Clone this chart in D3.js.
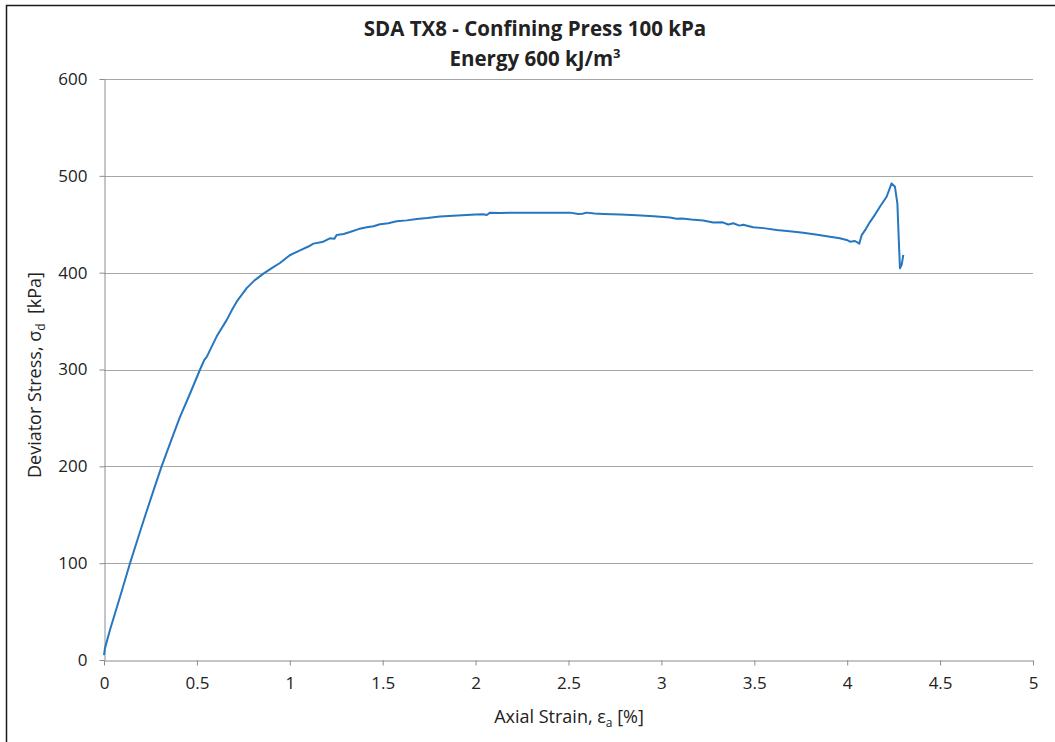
<!DOCTYPE html>
<html>
<head>
<meta charset="utf-8">
<script src="https://cdn.jsdelivr.net/npm/d3@7"></script>
<style>
  html, body { margin: 0; padding: 0; background: #fff; }
  svg { display: block; }
  text { font-family: "Open Sans", "Liberation Sans", sans-serif; fill: #222; }
</style>
</head>
<body>
<svg id="chart" width="1055" height="742"></svg>
<script>
// Triaxial test record: axial strain [%] vs deviator stress [kPa]
const strain = [0, 0.005, 0.032, 0.086, 0.140, 0.183, 0.225, 0.268, 0.310, 0.360, 0.409, 0.465, 0.517, 0.540, 0.553, 0.606, 0.660, 0.690, 0.714, 0.768, 0.810, 0.858, 0.905, 0.947, 1.000, 1.055,
  1.100, 1.127, 1.180, 1.216, 1.240, 1.252, 1.290, 1.324, 1.370, 1.414, 1.450, 1.486, 1.530, 1.575, 1.630, 1.683, 1.740, 1.808, 1.880, 1.952, 2.000, 2.041, 2.060, 2.078, 2.130, 2.185, 2.260, 2.347, 2.430, 2.508, 2.553, 2.575, 2.598,
  2.640, 2.688, 2.780, 2.867, 2.960, 3.046, 3.082, 3.110, 3.160, 3.225, 3.279, 3.330, 3.360, 3.387, 3.420, 3.440, 3.494, 3.550, 3.620, 3.690, 3.763, 3.830, 3.908, 3.960, 3.997, 4.015, 4.042, 4.065, 4.078,
  4.100, 4.123, 4.150, 4.176, 4.212, 4.239, 4.257, 4.270, 4.277, 4.284, 4.293, 4.302];
const stress = [5, 12, 31, 65, 100, 126, 151, 176, 200, 226, 251, 276, 300, 310, 313, 334, 351, 362, 370, 384, 392, 399, 405, 410, 418, 423,
  427, 430, 432, 435.5, 435, 439, 440, 442, 445, 447, 448, 450, 451, 453, 454, 455.5, 456.5, 458, 458.8, 459.5, 460, 460.3, 459.5, 462, 461.5, 462, 462, 462, 462, 462, 460.6, 460.8, 462,
  461, 460.6, 460, 459.3, 458.3, 457, 455.6, 456, 454.8, 453.8, 451.8, 452, 449.8, 451, 448.6, 449.5, 447, 446, 444, 442.8, 441.3, 439.5, 437, 435.5, 433.8, 432, 432.7, 430, 438.8,
  445, 452.5, 460, 468, 478.4, 492.2, 488.7, 471.6, 437, 404.5, 408, 418.3];

const xTicks = [0, 0.5, 1, 1.5, 2, 2.5, 3, 3.5, 4, 4.5, 5];
const yTicks = [0, 100, 200, 300, 400, 500, 600];

const svg = d3.select("#chart");

// Outer chart frame
svg.append("rect")
  .attr("x", 6.5).attr("y", 5.5)
  .attr("width", 1060).attr("height", 760)
  .attr("fill", "#fff").attr("stroke", "#1a1a1a").attr("stroke-width", 1.5);

const plotLeft = 104, plotRight = 1033, plotTop = 79, plotBottom = 660;
const x = d3.scaleLinear().domain([0, 5]).range([plotLeft, plotRight]);
const y = d3.scaleLinear().domain([0, 600]).range([plotBottom, plotTop]);

// Horizontal gridlines
svg.append("g")
  .selectAll("line")
  .data(yTicks.filter(v => v > 0))
  .join("line")
  .attr("x1", plotLeft).attr("x2", plotRight)
  .attr("y1", d => Math.round(y(d)) + 0.5).attr("y2", d => Math.round(y(d)) + 0.5)
  .attr("stroke", "#a6a6a6").attr("stroke-width", 1);

// Y axis
const yAxis = svg.append("g")
  .attr("transform", `translate(${plotLeft + 0.5},0)`)
  .call(d3.axisLeft(y).tickValues(yTicks).tickSize(5).tickSizeOuter(0).tickPadding(12).tickFormat(d3.format("d")));
yAxis.select(".domain").attr("stroke", "#8c8c8c");
yAxis.selectAll(".tick line").attr("stroke", "#8c8c8c");
yAxis.selectAll(".tick text").style("font-size", "17px").attr("fill", "#222").style("font-family", "'Open Sans', sans-serif");

// X axis
const xAxis = svg.append("g")
  .attr("transform", `translate(0,${plotBottom + 0.5})`)
  .call(d3.axisBottom(x).tickValues(xTicks).tickSize(5).tickSizeOuter(0).tickPadding(11).tickFormat(d3.format("")));
xAxis.select(".domain").attr("stroke", "#8c8c8c");
xAxis.selectAll(".tick line").attr("stroke", "#8c8c8c");
xAxis.selectAll(".tick text").style("font-size", "17px").attr("fill", "#222").style("font-family", "'Open Sans', sans-serif");

// Data curve
svg.append("path")
  .datum(stress)
  .attr("d", d3.line().x((d, i) => x(strain[i])).y(d => y(d)))
  .attr("fill", "none")
  .attr("stroke", "#2677bf")
  .attr("stroke-width", 2)
  .attr("stroke-linejoin", "round");

// Title
const title = svg.append("text")
  .attr("x", 535).attr("text-anchor", "middle")
  .style("font-weight", "bold").style("font-size", "20.5px");
title.append("tspan").attr("x", 535).attr("y", 36).text("SDA TX8 - Confining Press 100 kPa");
const t2 = title.append("tspan").attr("x", 535).attr("y", 66).text("Energy 600 kJ/m");
t2.append("tspan").text("3").style("font-size", "13px").attr("dy", -8);

// X axis title
const xl = svg.append("text")
  .attr("x", 569).attr("y", 723).attr("text-anchor", "middle")
  .style("font-size", "18px");
xl.append("tspan").text("Axial Strain, ε");
xl.append("tspan").text("a").style("font-size", "12px").attr("dy", 4);
xl.append("tspan").text("\u00a0[%]").attr("dy", -4);

// Y axis title
const yl = svg.append("text")
  .attr("transform", "translate(41,375) rotate(-90)")
  .attr("text-anchor", "middle")
  .style("font-size", "18px");
yl.append("tspan").text("Deviator Stress, σ");
yl.append("tspan").text("d").style("font-size", "12px").attr("dy", 4);
yl.append("tspan").text("\u00a0\u00a0[kPa]").attr("dy", -4);
</script>
</body>
</html>
